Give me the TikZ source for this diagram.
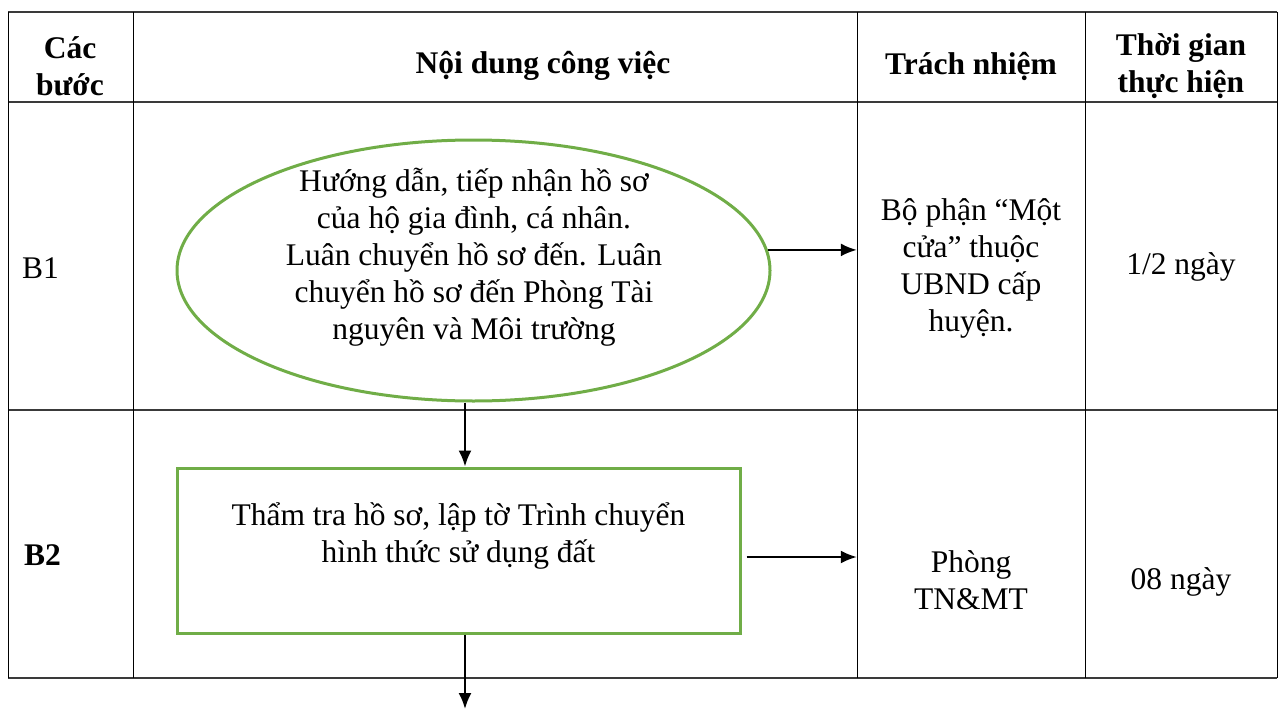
\documentclass[tikz,border=0pt]{standalone}
\usepackage{fontspec}
\setmainfont{Liberation Serif}
\usepackage{xcolor}
\definecolor{green500}{HTML}{70AD47}
\definecolor{grid700}{HTML}{3A3A3A}
\usetikzlibrary{arrows.meta, positioning, shapes.geometric}

\begin{document}
\begin{tikzpicture}[
        x=1pt, y=-1pt,
        cell/.style={align=center, inner sep=0pt, font=\fontsize{31.5}{37}\selectfont},
        head/.style={align=center, inner sep=0pt, font=\fontsize{31.5}{37}\selectfont\bfseries},
        oval/.style={draw=green500, ellipse, line width=3pt, minimum width=593pt, minimum height=261pt, inner sep=0pt},
        taskbox/.style={draw=green500, rectangle, line width=3pt, minimum width=563pt, minimum height=165pt, inner sep=0pt},
        grid/.style={draw=black, line width=1pt},
        rowline/.style={draw=grid700, line width=2pt},
        flow/.style={-{Latex[length=16pt, width=13pt]}, line width=2pt}
    ]
        \useasboundingbox (0,0) rectangle (1280,709);

        % Table grid
        \foreach \y in {12,102,410,678}
            \draw[rowline] (8,\y) -- (1277,\y);
        \foreach \x in {8,133,857,1085,1277}
            \draw[grid] (\x,12) -- (\x,678);

        % Header
        \node[head] (hstep) at (70,66) {Các\\bước};
        \node[head] (hwork) at (543,66) {Nội dung công việc};
        \node[head] (hresp) at (971,66) {Trách nhiệm};
        \node[head] (htime) at (1181,66) {Thời gian\\thực hiện};

        % Step B1
        \node[cell, anchor=west] (b1step) at (22,268) {B1};
        \node[oval] (b1oval) at (473.5,270.5) {};
        \node[cell] (b1text) at (474,257) {Hướng dẫn, tiếp nhận hồ sơ\\của hộ gia đình, cá nhân.\\Luân chuyển hồ sơ đến. Luân\\chuyển hồ sơ đến Phòng Tài\\nguyên và Môi trường};
        \node[cell, minimum width=228pt] (b1resp) at (971,268) {Bộ phận “Một\\cửa” thuộc\\UBND cấp\\huyện.};
        \node[cell] (b1time) at (1181,267) {1/2 ngày};

        % Step B2
        \node[cell, anchor=west, font=\fontsize{31.5}{37}\selectfont\bfseries] (b2step) at (24,555) {B2};
        \node[taskbox] (b2box) at (458.5,550.5) {};
        \node[cell] (b2text) at (458.5,536) {Thẩm tra hồ sơ, lập tờ Trình chuyển\\hình thức sử dụng đất};
        \node[cell, minimum width=228pt] (b2resp) at (971,580) {Phòng\\TN\&MT};
        \node[cell] (b2time) at (1181,582) {08 ngày};

        \coordinate (exit) at (465,709);

        % Flow
        \draw[flow] (b1oval.4.5) -- (b1oval.4.5 -| b1resp.west);
        \draw[flow] ([xshift=6.5pt]b2box.north |- b1oval.south) -- ([xshift=6.5pt]b2box.north);
        \draw[flow] ([yshift=-6.5pt,xshift=5pt]b2box.east) -- ([yshift=-6.5pt]b2box.east -| b2resp.west);
        \draw[flow] (b2box.south -| exit) -- (exit);

    \end{tikzpicture}
\end{document}
